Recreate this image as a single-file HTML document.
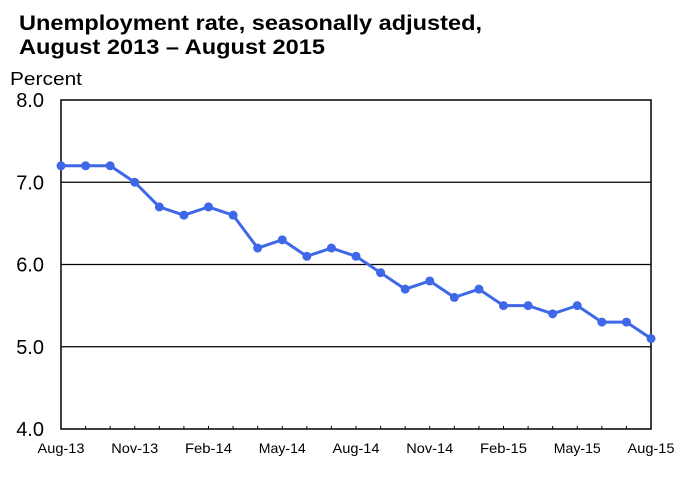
<!DOCTYPE html>
<html><head><meta charset="utf-8"><style>
body{margin:0;background:#fff;width:680px;height:473px;overflow:hidden;font-family:"Liberation Sans",Arial,sans-serif}
</style></head><body>
<svg width="680" height="473" xmlns="http://www.w3.org/2000/svg">
<text x="19" y="30" font-size="21" font-weight="bold" fill="#000" textLength="463" lengthAdjust="spacingAndGlyphs">Unemployment rate, seasonally adjusted,</text>
<text x="19" y="54" font-size="21" font-weight="bold" fill="#000" textLength="306" lengthAdjust="spacingAndGlyphs">August 2013 – August 2015</text>
<text x="10" y="85" font-size="18" fill="#000" textLength="72" lengthAdjust="spacingAndGlyphs">Percent</text>
<g id="grid"></g><g id="axes"></g><g id="series"></g>
</svg>
<script>
const months=["Aug-13","Sep-13","Oct-13","Nov-13","Dec-13","Jan-14","Feb-14","Mar-14","Apr-14","May-14","Jun-14","Jul-14","Aug-14","Sep-14","Oct-14","Nov-14","Dec-14","Jan-15","Feb-15","Mar-15","Apr-15","May-15","Jun-15","Jul-15","Aug-15"];
const rates=[7.2,7.2,7.2,7.0,6.7,6.6,6.7,6.6,6.2,6.3,6.1,6.2,6.1,5.9,5.7,5.8,5.6,5.7,5.5,5.5,5.4,5.5,5.3,5.3,5.1];
const yTicks=[4.0,5.0,6.0,7.0,8.0];
const NS="http://www.w3.org/2000/svg";
const L=61,R=651,T=100,B=429,yMin=4,yMax=8;
const xs=i=>L+(R-L)*i/(months.length-1);
const ys=v=>B-(B-T)*(v-yMin)/(yMax-yMin);
function mk(t,a,p){const e=document.createElementNS(NS,t);for(const k in a)e.setAttribute(k,a[k]);p.appendChild(e);return e;}
const grid=document.getElementById('grid'),axes=document.getElementById('axes'),ser=document.getElementById('series');
yTicks.forEach(v=>{
 const y=ys(v);
 if(v>yMin&&v<yMax){const g=mk('line',{x1:L,x2:R,y1:y,y2:y,stroke:'#000','stroke-width':1.2},grid);
 
 }
 const t=mk('text',{x:L-17,y:y+7,'font-size':20,'text-anchor':'end',fill:'#000'},axes);
 t.textContent=v.toFixed(1);
 
 
});
const fr=mk('rect',{x:L,y:T,width:R-L,height:B-T,fill:'none',stroke:'#000','stroke-width':1.5},axes);


months.forEach((m,i)=>{
 const x=xs(i);
 if(i>0&&i<months.length-1){const tk=mk('line',{x1:x,x2:x,y1:B,y2:B-3,stroke:'#000','stroke-width':1},axes);
 
 }
 if(i%3===0){const t=mk('text',{x:x,y:B+24,'font-size':14,'text-anchor':'middle',fill:'#000',textLength:47,lengthAdjust:'spacingAndGlyphs'},axes);
 t.textContent=m;
 
 }
});
const pl=mk('polyline',{points:rates.map((v,i)=>xs(i)+','+ys(v)).join(' '),fill:'none',stroke:'#3f68e8','stroke-width':3},ser);


rates.forEach((v,i)=>{
 const c=mk('circle',{cx:xs(i),cy:ys(v),r:4.5,fill:'#3f68e8'},ser);
 
 
});
</script>
</body></html>
